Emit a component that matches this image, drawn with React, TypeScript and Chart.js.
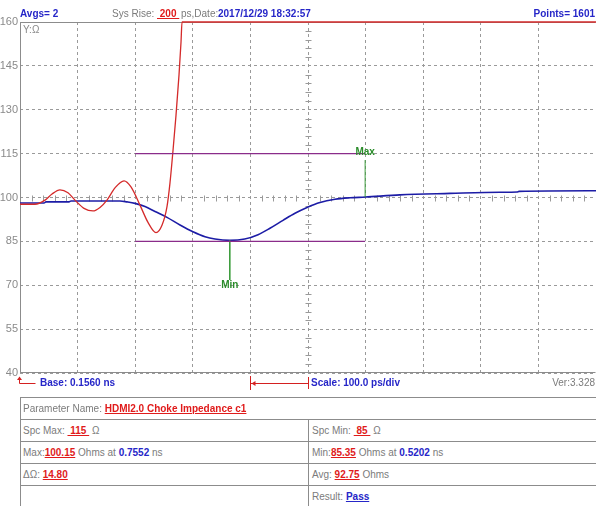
import React, { useEffect, useRef } from 'react';
import { Chart, registerables } from 'chart.js';

Chart.register(...registerables);

// ---- data ----
const X_GRID = [0.156, 0.256, 0.356, 0.456, 0.556, 0.656, 0.756, 0.856, 0.956, 1.056, 1.156];
const Y_TICKS = [40, 55, 70, 85, 100, 115, 130, 145, 160];

const BLUE_T = [0.156, 0.1977, 0.2011, 0.2411, 0.2445, 0.3296, 0.3418, 0.3557, 0.373, 0.3904, 0.4112, 0.4338, 0.4563, 0.4772, 0.4945, 0.5202, 0.5462, 0.5692, 0.59, 0.6126, 0.6334, 0.6543, 0.6768, 0.7029, 0.729, 0.7552, 0.8157, 0.9025, 0.9893, 1.0189, 1.0224, 1.156];
const BLUE_OHM = [98.1, 98.1, 98.5, 98.5, 98.8, 98.8, 98.5, 98.0, 96.9, 95.2, 93.2, 90.6, 88.3, 86.6, 85.8, 85.35, 85.8, 87.3, 89.5, 92.2, 94.6, 96.6, 98.3, 99.4, 99.9, 100.15, 100.9, 101.4, 101.8, 101.9, 102.1, 102.3];

const RED_T = [0.156, 0.182, 0.1994, 0.2116, 0.2254, 0.2393, 0.2515, 0.2671, 0.2827, 0.2949, 0.307, 0.3209, 0.3366, 0.3487, 0.3643, 0.3782, 0.3921, 0.4025, 0.4112, 0.4164, 0.4216, 0.4268, 0.4321, 0.4355, 0.4373, 1.156];
const RED_OHM = [97.7, 97.7, 99.1, 101.2, 102.6, 101.6, 99.1, 96.3, 95.4, 96.6, 99.1, 103.3, 105.7, 103.6, 97.4, 91.5, 88.0, 90.5, 96.9, 105, 116, 128, 142, 153, 160, 160];

const SPEC_MAX = 115;
const SPEC_MIN = 85;
const SPEC_T = [0.356, 0.7552];

const MAX_T = 0.7552;
const MAX_OHM = 100.15;
const MAX_MARK_END = 112.8;
const MAX_LABEL_OHM = 115.3;

const MIN_T = 0.5202;
const MIN_OHM = 85.35;
const MIN_MARK_END = 71.8;
const MIN_LABEL_OHM = 70.1;

const CENTER_T = 0.656;
const CENTER_OHM = 100;
const SCALE_MARK_T = [0.556, 0.656];

// ---- styles ----
const FONT = '"Liberation Sans", Arial, sans-serif';
const GRAY = '#7b7b7b';
const BLUE_TXT = '#2626c8';
const RED_TXT = '#e01b1b';
const GRID = '#9a9a9a';
const FRAME = '#8c8c8c';

const framePlugin = {
  id: 'frame',
  beforeDatasetsDraw(chart: any) {
    const { ctx, chartArea: a, scales } = chart;
    const xs = scales.x;
    const ys = scales.y;
    ctx.save();
    // minor ticks along the centre cross
    ctx.strokeStyle = GRID;
    ctx.lineWidth = 1;
    ctx.setLineDash([]);
    const cx = Math.round(xs.getPixelForValue(CENTER_T)) + 0.5;
    const cy = Math.round(ys.getPixelForValue(CENTER_OHM)) + 0.5;
    for (let i = 0; i < X_GRID.length - 1; i++) {
      for (let k = 1; k < 5; k++) {
        const v = X_GRID[i] + ((X_GRID[i + 1] - X_GRID[i]) * k) / 5;
        const px = Math.round(xs.getPixelForValue(v)) + 0.5;
        ctx.beginPath();
        ctx.moveTo(px, cy - 3);
        ctx.lineTo(px, cy + 3);
        ctx.stroke();
      }
    }
    for (let i = 0; i < Y_TICKS.length - 1; i++) {
      for (let k = 1; k < 5; k++) {
        const v = Y_TICKS[i] + ((Y_TICKS[i + 1] - Y_TICKS[i]) * k) / 5;
        const py = Math.round(ys.getPixelForValue(v)) + 0.5;
        ctx.beginPath();
        ctx.moveTo(cx - 3, py);
        ctx.lineTo(cx + 3, py);
        ctx.stroke();
      }
    }
    // frame
    ctx.strokeStyle = FRAME;
    ctx.beginPath();
    const l = Math.round(a.left) + 0.5;
    const t = Math.round(a.top) + 0.5;
    const b = Math.round(a.bottom) - 0.5;
    const r = Math.round(a.right) - 0.5;
    ctx.moveTo(l, t);
    ctx.lineTo(r, t);
    ctx.moveTo(l, t);
    ctx.lineTo(l, b);
    ctx.lineTo(r, b);
    ctx.stroke();
    ctx.restore();
  },
  afterDatasetsDraw(chart: any) {
    const { ctx, chartArea: a, scales } = chart;
    const xs = scales.x;
    const ys = scales.y;
    ctx.save();
    ctx.font = `bold 10px ${FONT}`;
    ctx.fillStyle = '#2a8c2a';
    ctx.textAlign = 'center';
    ctx.textBaseline = 'middle';
    ctx.fillText('Max', xs.getPixelForValue(MAX_T), ys.getPixelForValue(MAX_LABEL_OHM));
    ctx.fillText('Min', xs.getPixelForValue(MIN_T), ys.getPixelForValue(MIN_LABEL_OHM));
    // Y label
    ctx.font = `10px ${FONT}`;
    ctx.fillStyle = '#8a8a8a';
    ctx.textAlign = 'left';
    ctx.fillText('Y:\u03A9', a.left + 3, a.top + 8);
    // bottom markers
    ctx.strokeStyle = '#d42020';
    ctx.fillStyle = '#d42020';
    ctx.lineWidth = 1;
    const bx = Math.round(xs.getPixelForValue(X_GRID[0])) - 0.5;
    ctx.beginPath();
    ctx.moveTo(bx, a.bottom + 6);
    ctx.lineTo(bx, a.bottom + 10.5);
    ctx.lineTo(bx + 16, a.bottom + 10.5);
    ctx.stroke();
    ctx.beginPath();
    ctx.moveTo(bx - 2.5, a.bottom + 7);
    ctx.lineTo(bx + 2.5, a.bottom + 7);
    ctx.lineTo(bx, a.bottom + 3.5);
    ctx.closePath();
    ctx.fill();
    const s0 = Math.round(xs.getPixelForValue(SCALE_MARK_T[0])) + 0.5;
    const s1 = Math.round(xs.getPixelForValue(SCALE_MARK_T[1])) + 0.5;
    const sy = a.bottom + 10.5;
    ctx.beginPath();
    ctx.moveTo(s0, a.bottom + 3);
    ctx.lineTo(s0, a.bottom + 17);
    ctx.moveTo(s1, a.bottom + 4);
    ctx.lineTo(s1, a.bottom + 16);
    ctx.moveTo(s0, sy);
    ctx.lineTo(s1, sy);
    ctx.stroke();
    ctx.beginPath();
    ctx.moveTo(s0 + 1, sy);
    ctx.lineTo(s0 + 5, sy - 2.5);
    ctx.lineTo(s0 + 5, sy + 2.5);
    ctx.closePath();
    ctx.fill();
    ctx.restore();
  },
};

const T = ({ x, y, right, children, style }: any) => (
  <div
    style={{
      position: 'absolute',
      left: right === undefined ? x : undefined,
      right: right,
      top: y,
      whiteSpace: 'nowrap',
      lineHeight: '14px',
      fontSize: 10,
      fontFamily: FONT,
      ...style,
    }}
  >
    {children}
  </div>
);

const B = { color: BLUE_TXT, fontWeight: 'bold' } as const;
const R = { color: RED_TXT, fontWeight: 'bold', textDecoration: 'underline' } as const;
const G = { color: GRAY } as const;

export default function App() {
  const ref = useRef<HTMLCanvasElement>(null);

  useEffect(() => {
    const canvas = ref.current;
    if (!canvas) return;
    const line = (data: any[], color: string, width: number, extra: any = {}) => ({
      data,
      borderColor: color,
      backgroundColor: color,
      borderWidth: width,
      pointRadius: 0,
      showLine: true,
      fill: false,
      clip: { left: 2, top: 2, right: 2, bottom: 2 },
      ...extra,
    });
    const chart = new Chart(canvas, {
      type: 'scatter',
      data: {
        datasets: [
          line([{ x: SPEC_T[0], y: SPEC_MAX }, { x: SPEC_T[1], y: SPEC_MAX }], '#8a2c8a', 1.3),
          line([{ x: SPEC_T[0], y: SPEC_MIN }, { x: SPEC_T[1], y: SPEC_MIN }], '#8a2c8a', 1.3),
          line([{ x: MAX_T, y: MAX_OHM }, { x: MAX_T, y: MAX_MARK_END }], '#3c9c3c', 1),
          line([{ x: MIN_T, y: MIN_OHM }, { x: MIN_T, y: MIN_MARK_END }], '#3c9c3c', 1),
          line(RED_T.map((t, i) => ({ x: t, y: RED_OHM[i] })), '#d42a2a', 1.3, { cubicInterpolationMode: 'monotone' }),
          line(BLUE_T.map((t, i) => ({ x: t, y: BLUE_OHM[i] })), '#1c1ca6', 1.6, { cubicInterpolationMode: 'monotone' }),
        ],
      },
      options: {
        animation: false,
        responsive: false,
        devicePixelRatio: 1,
        layout: { padding: { top: 22, right: 0, bottom: 0, left: 0 } },
        plugins: { legend: { display: false }, tooltip: { enabled: false }, title: { display: false } },
        scales: {
          x: {
            type: 'linear',
            min: X_GRID[0],
            max: X_GRID[X_GRID.length - 1],
            afterBuildTicks: (s: any) => {
              s.ticks = X_GRID.map((v) => ({ value: v }));
            },
            afterFit: (s: any) => {
              s.height = 22;
            },
            ticks: { display: false },
            grid: { color: GRID, lineWidth: 1, drawTicks: false },
            border: { display: false, dash: [3, 3] },
          },
          y: {
            type: 'linear',
            min: Y_TICKS[0],
            max: Y_TICKS[Y_TICKS.length - 1],
            afterBuildTicks: (s: any) => {
              s.ticks = Y_TICKS.map((v) => ({ value: v }));
            },
            afterFit: (s: any) => {
              s.width = 20;
            },
            ticks: { color: '#8a8a8a', padding: 2, font: { family: FONT, size: 11 } },
            grid: { color: GRID, lineWidth: 1, drawTicks: false },
            border: { display: false, dash: [3, 3] },
          },
        },
      },
      plugins: [framePlugin],
    } as any);
    return () => chart.destroy();
  }, []);

  const rows = [397, 419, 441, 463, 485];

  return (
    <div
      style={{
        position: 'fixed',
        left: 0,
        top: 0,
        width: 596,
        height: 506,
        overflow: 'hidden',
        background: '#fff',
        fontFamily: FONT,
      }}
    >
      <canvas ref={ref} width={596} height={395} style={{ position: 'absolute', left: 0, top: 0, width: 596, height: 395 }} />

      {/* header */}
      <T x={20} y={7} style={B}>Avgs= 2</T>
      <T x={112} y={7} style={G}>Sys Rise:</T>
      <T x={157} y={7} style={R}>{'\u00A0200\u00A0'}</T>
      <T x={181} y={7} style={G}>ps,Date:</T>
      <T x={218} y={7} style={B}>2017/12/29 18:32:57</T>
      <T right={1} y={7} style={B}>Points= 1601</T>

      {/* bottom row */}
      <T x={40} y={376} style={B}>Base: 0.1560 ns</T>
      <T x={311} y={376} style={B}>Scale: 100.0 ps/div</T>
      <T right={1} y={376} style={G}>Ver:3.328</T>

      {/* table lines */}
      {rows.map((r) => (
        <div key={r} style={{ position: 'absolute', left: 20, top: r, width: 576, height: 1, background: FRAME }} />
      ))}
      <div style={{ position: 'absolute', left: 20, top: 397, width: 1, height: 109, background: FRAME }} />
      <div style={{ position: 'absolute', left: 308, top: 419, width: 1, height: 87, background: FRAME }} />

      {/* table texts */}
      <T x={23} y={rows[0] + 5} style={G}>
        Parameter Name: <span style={R}>HDMI2.0 Choke Impedance c1</span>
      </T>
      <T x={23} y={rows[1] + 5} style={G}>
        Spc Max: <span style={R}>{'\u00A0115\u00A0'}</span> {'\u03A9'}
      </T>
      <T x={312} y={rows[1] + 5} style={G}>
        Spc Min: <span style={R}>{'\u00A085\u00A0'}</span> {'\u03A9'}
      </T>
      <T x={23} y={rows[2] + 5} style={G}>
        Max:<span style={R}>100.15</span> Ohms at <span style={B}>0.7552</span> ns
      </T>
      <T x={312} y={rows[2] + 5} style={G}>
        Min:<span style={R}>85.35</span> Ohms at <span style={B}>0.5202</span> ns
      </T>
      <T x={23} y={rows[3] + 5} style={G}>
        {'\u0394\u03A9'}: <span style={R}>14.80</span>
      </T>
      <T x={312} y={rows[3] + 5} style={G}>
        Avg: <span style={R}>92.75</span> Ohms
      </T>
      <T x={312} y={rows[4] + 5} style={G}>
        Result: <span style={{ color: BLUE_TXT, fontWeight: 'bold', textDecoration: 'underline' }}>Pass</span>
      </T>
    </div>
  );
}
